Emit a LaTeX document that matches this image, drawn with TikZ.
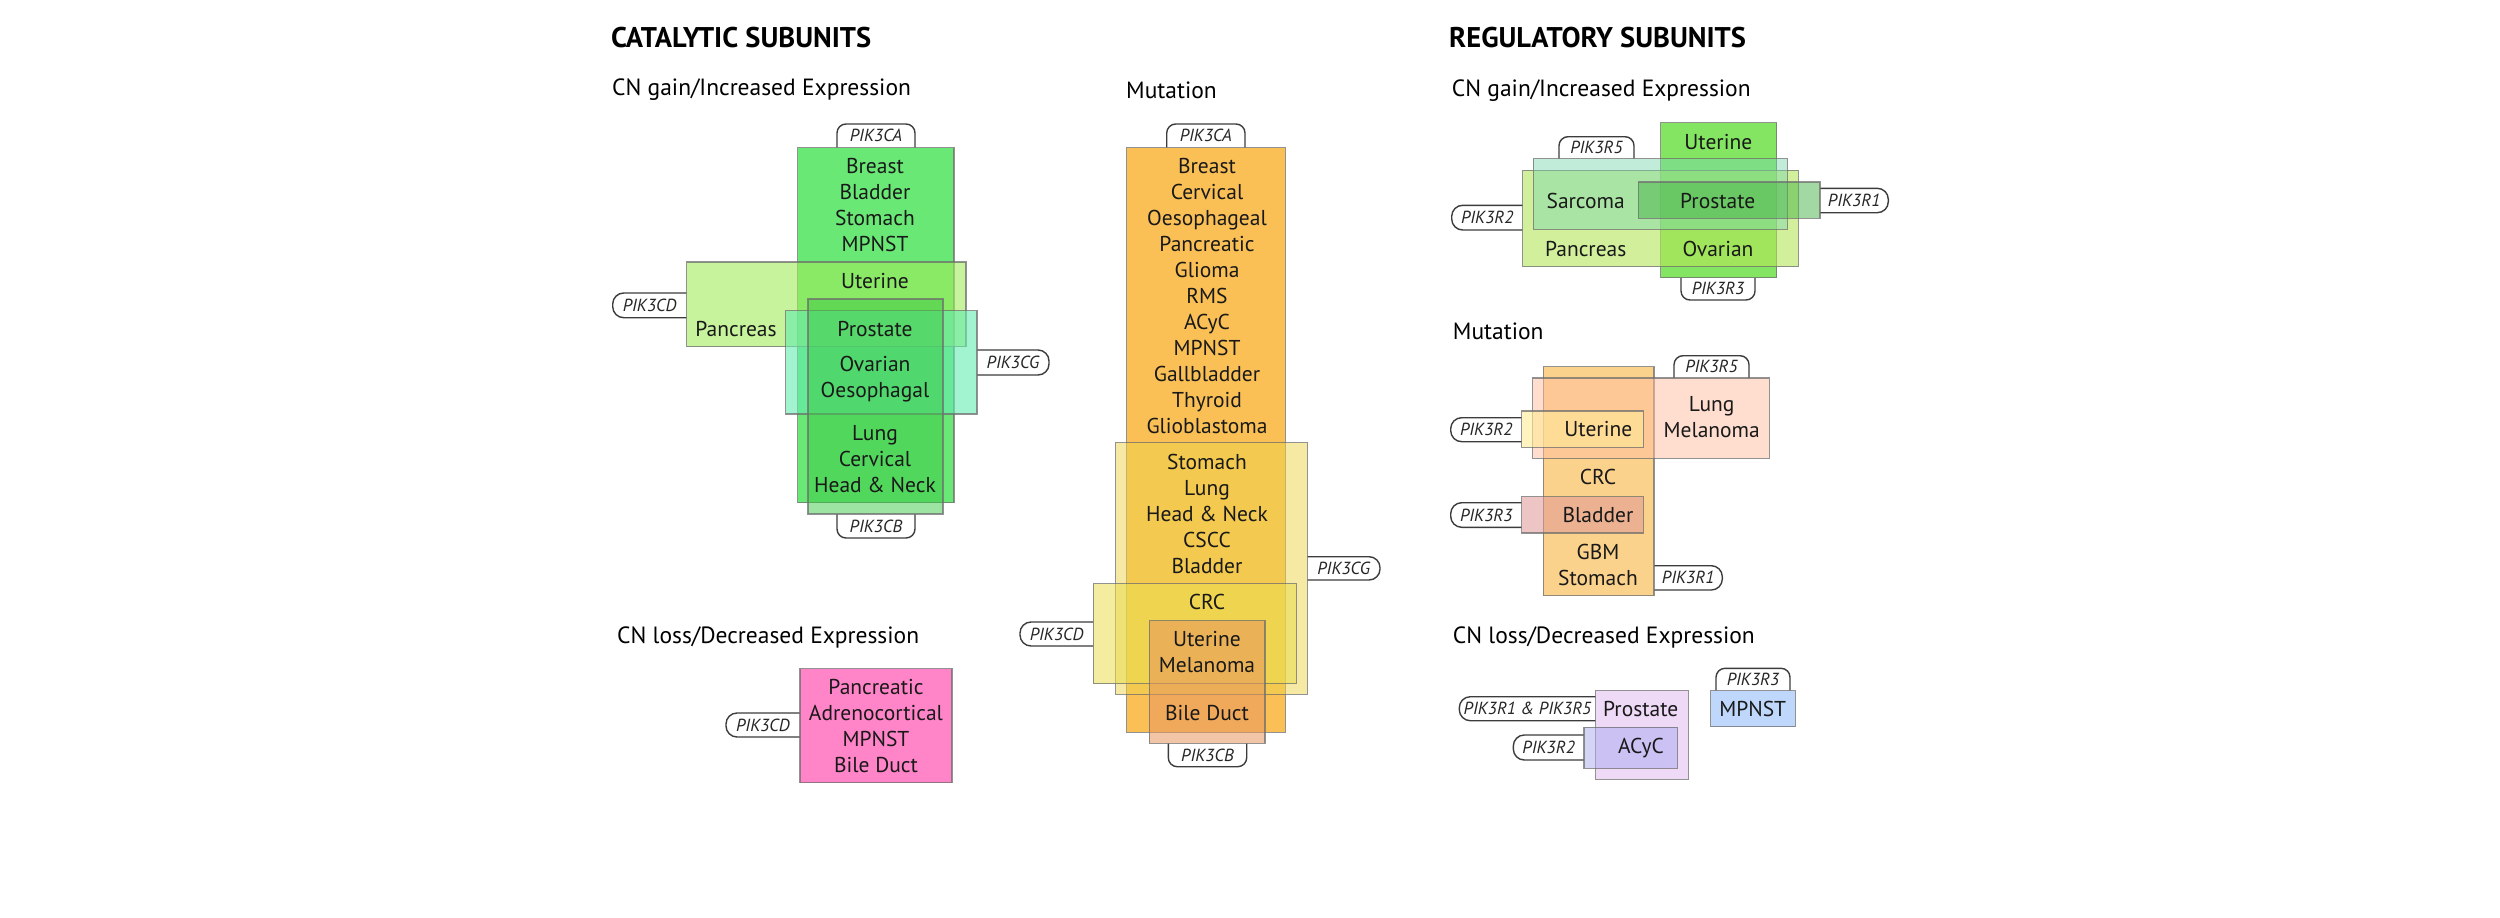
\documentclass[tikz,border=0pt]{standalone}
\usepackage{fontspec}
\setmainfont{PT Sans}
\definecolor{cgCA}{RGB}{80,228,95}
\definecolor{cgCD}{RGB}{160,235,90}
\definecolor{cgCG}{RGB}{100,235,175}
\definecolor{cgCB}{RGB}{60,200,70}
\definecolor{clCD}{RGB}{255,132,200}
\definecolor{mCA}{RGB}{250,192,85}
\definecolor{mCG}{RGB}{238,212,75}
\definecolor{mCD}{RGB}{235,222,80}
\definecolor{mCB}{RGB}{232,150,95}
\definecolor{rgR3}{RGB}{110,225,70}
\definecolor{rgR2}{RGB}{180,230,90}
\definecolor{rgR5}{RGB}{120,215,175}
\definecolor{rgR1}{RGB}{70,180,70}
\definecolor{rmR1}{RGB}{251,210,140}
\definecolor{rmR5}{RGB}{255,190,160}
\definecolor{rmR2}{RGB}{255,235,150}
\definecolor{rmR3}{RGB}{225,150,150}
\definecolor{rlPR}{RGB}{238,218,247}
\definecolor{rlAC}{RGB}{170,170,240}
\definecolor{rlMP}{RGB}{190,215,250}
\definecolor{edge}{RGB}{110,110,110}
\definecolor{tabedge}{RGB}{60,60,60}
\newcommand{\tabv}[6]{% name, x1, x2, yout, ybox, label
  \filldraw[tabline, rounded corners=9pt] (#2,#5) -- (#2,#4) -- (#3,#4) -- (#3,#5);
  \node[tablbl] (#1) at ({(#2+#3)/2},{(#4+#5)/2}) {#6};}
\newcommand{\tabh}[6]{% name, y1, y2, xout, xbox, label
  \filldraw[tabline, rounded corners=11pt] (#5,#2) -- (#4,#2) -- (#4,#3) -- (#5,#3);
  \node[tablbl] (#1) at ({(#4+#5)/2},{(#2+#3)/2}) {#6};}
\begin{document}
\begin{tikzpicture}[x=1pt,y=-1pt,
  boxline/.style={draw=edge, draw opacity=0.75, line width=1.4pt},
  tabline/.style={draw=tabedge, line width=1.4pt, fill=white},
  lbl/.style={font=\fontsize{21.5}{26}\selectfont, align=center, inner sep=0pt, text=black!90},
  tablbl/.style={font=\fontsize{17.5}{20}\selectfont\itshape, inner sep=0pt, text=black!85},
  hdr/.style={font=\fontsize{28.5}{32}\selectfont\bfseries, anchor=west, inner sep=0pt},
  sub/.style={font=\fontsize{23.5}{28}\selectfont, anchor=west, inner sep=0pt}]
\useasboundingbox[fill=white] (0,0) rectangle (2500,918);

% ---------------- headers
\node[hdr] (hcat) at (611,37.5) {CATALYTIC SUBUNITS};
\node[hdr] (hreg) at (1449,37.5) {REGULATORY SUBUNITS};
\node[sub] (hcgain) at (612,90) {CN gain/Increased Expression};
\node[sub] (hcmut) at (1126,90) {Mutation};
\node[sub] (hcloss) at (617,637) {CN loss/Decreased Expression};
\node[sub] (hrgain) at (1451.7,91) {CN gain/Increased Expression};
\node[sub] (hrmut) at (1452.7,331) {Mutation};
\node[sub] (hrloss) at (1452.7,637) {CN loss/Decreased Expression};

% ---------------- catalytic CN gain
\tabv{tCA1}{837}{915}{124}{147.7}{PIK3CA}
\tabh{tCD1}{293}{317.7}{612.7}{686.7}{PIK3CD}
\tabh{tCG1}{350}{375}{1049}{977}{PIK3CG}
\tabv{tCB1}{837}{915}{538}{514}{PIK3CB}
\path[boxline, fill=cgCA, fill opacity=0.85] (797.7,147.7) rectangle (954,502.7);
\path[boxline, fill=cgCD, fill opacity=0.6] (686.7,262) rectangle (966,346.7);
\path[boxline, fill=cgCG, fill opacity=0.6] (785.7,310.7) rectangle (977,414);
\path[boxline, fill=cgCB, fill opacity=0.5] (808,299) rectangle (943,514);
\node[lbl] (g1) at (875,205.3) {Breast\\Bladder\\Stomach\\MPNST};
\node[lbl] (g2) at (875,281) {Uterine};
\node[lbl] (g3) at (736,329) {Pancreas};
\node[lbl] (g4) at (875,329) {Prostate};
\node[lbl] (g5) at (875,379.3) {Ovarian\\Oesophagal};
\node[lbl] (g6) at (875,459) {Lung\\Cervical\\Head \& Neck};

% ---------------- catalytic CN loss
\tabh{tCD2}{713}{737}{726}{800}{PIK3CD}
\path[boxline, fill=clCD] (800,668.7) rectangle (952,782.7);
\node[lbl] (l1) at (876,726.2) {Pancreatic\\Adrenocortical\\MPNST\\Bile Duct};

% ---------------- catalytic mutation
\tabv{tCA3}{1166.7}{1245}{124}{147.7}{PIK3CA}
\tabh{tCG3}{556.7}{580}{1380}{1307.3}{PIK3CG}
\tabh{tCD3}{622}{646}{1020}{1093.3}{PIK3CD}
\tabv{tCB3}{1168.3}{1246.7}{766.7}{743.3}{PIK3CB}
\path[boxline, fill=mCA] (1126.7,147.7) rectangle (1285.3,732.3);
\path[boxline, fill=mCG, fill opacity=0.5] (1115.7,442.7) rectangle (1307.3,694.3);
\path[boxline, fill=mCD, fill opacity=0.55] (1093.3,583.7) rectangle (1296.3,683.7);
\path[boxline, fill=mCB, fill opacity=0.55] (1149.3,620.7) rectangle (1265,743.3);
\node[lbl] (m1) at (1207,295.8) {Breast\\Cervical\\Oesophageal\\Pancreatic\\Glioma\\RMS\\ACyC\\MPNST\\Gallbladder\\Thyroid\\Glioblastoma};
\node[lbl] (m2) at (1207,514.2) {Stomach\\Lung\\Head \& Neck\\CSCC\\Bladder};
\node[lbl] (m3) at (1207,601.7) {CRC};
\node[lbl] (m4) at (1207,652.2) {Uterine\\Melanoma};
\node[lbl] (m5) at (1207,713.3) {Bile Duct};

% ---------------- regulatory CN gain
\tabv{tR5a}{1559}{1634}{136.7}{158.7}{PIK3R5}
\tabh{tR2a}{205.3}{230}{1451.7}{1522.7}{PIK3R2}
\tabh{tR1a}{188.3}{212.7}{1888.3}{1820}{PIK3R1}
\tabv{tR3a}{1681}{1755}{300}{277.7}{PIK3R3}
\path[boxline, fill=rgR3, fill opacity=0.85] (1660.7,122.7) rectangle (1776.7,277.7);
\path[boxline, fill=rgR2, fill opacity=0.6] (1522.7,170.3) rectangle (1798.3,266.7);
\path[boxline, fill=rgR5, fill opacity=0.45] (1533.3,158.7) rectangle (1787.3,229.3);
\path[boxline, fill=rgR1, fill opacity=0.5] (1638.3,182) rectangle (1820,218.3);
\node[lbl] (r1) at (1718.3,142.3) {Uterine};
\node[lbl] (r2) at (1585.7,200.7) {Sarcoma};
\node[lbl] (r3) at (1717.7,200.7) {Prostate};
\node[lbl] (r4) at (1585.7,249.3) {Pancreas};
\node[lbl] (r5) at (1718,249.3) {Ovarian};

% ---------------- regulatory mutation
\tabv{tR5b}{1674}{1749}{355.7}{378}{PIK3R5}
\tabh{tR2b}{417.7}{441.7}{1450.7}{1521.7}{PIK3R2}
\tabh{tR3b}{502.7}{527.3}{1450.7}{1521.7}{PIK3R3}
\tabh{tR1b}{565.7}{590}{1722.3}{1654}{PIK3R1}
\path[boxline, fill=rmR1] (1543.3,366.7) rectangle (1654,595.7);
\path[boxline, fill=rmR5, fill opacity=0.5] (1532.7,378) rectangle (1769.3,458.3);
\path[boxline, fill=rmR2, fill opacity=0.6] (1521.7,411) rectangle (1643.3,447.3);
\path[boxline, fill=rmR3, fill opacity=0.55] (1521.7,496.7) rectangle (1643.3,533);
\node[lbl] (s1) at (1711.7,416.7) {Lung\\Melanoma};
\node[lbl] (s2) at (1598.3,429.3) {Uterine};
\node[lbl] (s3) at (1598,477.3) {CRC};
\node[lbl] (s4) at (1598,515) {Bladder};
\node[lbl] (s5) at (1598,565) {GBM\\Stomach};

% ---------------- regulatory CN loss
\tabh{tR15}{696.7}{720.7}{1459.3}{1595.7}{PIK3R1 \& PIK3R5}
\tabh{tR2c}{735}{760}{1513.3}{1584}{PIK3R2}
\tabv{tR3c}{1716}{1790}{668.3}{690.7}{PIK3R3}
\path[boxline, fill=rlPR] (1595.7,690.7) rectangle (1688.3,779.3);
\path[boxline, fill=rlAC, fill opacity=0.5] (1584,727.3) rectangle (1677.3,768.3);
\path[boxline, fill=rlMP] (1710.7,690.7) rectangle (1795.3,726.7);
\node[lbl] (u1) at (1640.7,709) {Prostate};
\node[lbl] (u2) at (1641,748.3) {ACyC};
\node[lbl] (u3) at (1752.7,709) {MPNST};
\end{tikzpicture}
\end{document}
